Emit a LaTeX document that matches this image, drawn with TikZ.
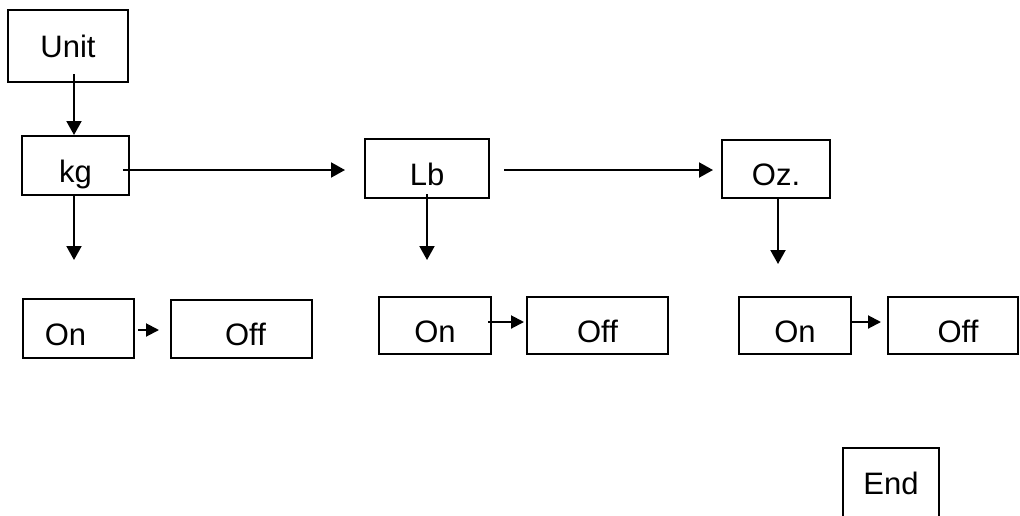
\documentclass[tikz,border=0pt]{standalone}
\usepackage{fontspec}
\setmainfont{Liberation Sans}
\usepackage{tikz}
\usetikzlibrary{arrows.meta, positioning}

\begin{document}
\begin{tikzpicture}[
    x=1pt, y=-1pt,
    every node/.style={font=\fontsize{31}{37}\selectfont},
    box/.style={draw=black, line width=2pt, inner sep=0pt},
    lowbox/.style={box, text height=33.5pt, text depth=0pt},
    arr/.style={line width=2pt, -{Triangle[length=14pt, width=15pt]}},
    smallarr/.style={line width=2pt, -{Triangle[length=13pt, width=13pt]}}
]
\useasboundingbox (0,0) rectangle (1020,515);

% Top box
\node[box, minimum width=120pt, minimum height=72pt] (unit) at (68, 46) {Unit};

% Units row
\node[lowbox, minimum width=107pt, minimum height=59pt] (kg) at (75.5, 165.5) {kg};
\node[lowbox, minimum width=124pt, minimum height=59pt] (lb) at (427, 168.5) {Lb};
\node[lowbox, minimum width=108pt, minimum height=58pt] (oz) at (776, 169) {Oz.};

% On / Off row
\node[lowbox, minimum width=111pt, minimum height=59pt] (on1) at (78.5, 328.5) {\hspace*{-26pt}On};
\node[lowbox, minimum width=141pt, minimum height=58pt] (off1) at (241.5, 329) {\hspace*{8pt}Off};
\node[lowbox, minimum width=112pt, minimum height=57pt] (on2) at (435, 325.5) {On};
\node[lowbox, minimum width=141pt, minimum height=57pt] (off2) at (597.5, 325.5) {Off};
\node[lowbox, minimum width=112pt, minimum height=57pt] (on3) at (795, 325.5) {On};
\node[lowbox, minimum width=130pt, minimum height=57pt] (off3) at (953, 325.5) {\hspace*{10pt}Off};

% End
\node[box, minimum width=96pt, minimum height=70pt] (endbox) at (891, 483) {End};

% Arrows
\draw[arr] ([xshift=6pt, yshift=9pt]unit.south) -- ([xshift=-1.5pt]kg.north);
\draw[arr] ([xshift=-7pt, yshift=-4.5pt]kg.east) -- ([xshift=-19pt, yshift=-1.5pt]lb.west);
\draw[arr] ([xshift=14pt, yshift=-1.5pt]lb.east) -- ([xshift=-8pt, yshift=-1pt]oz.west);

\draw[arr] ([xshift=-1.5pt, yshift=2pt]kg.south) -- ([xshift=-4.5pt, yshift=38pt]on1.north);
\draw[arr] ([yshift=5pt]lb.south) -- ([xshift=-8pt, yshift=36pt]on2.north);
\draw[arr] ([xshift=2pt]oz.south) -- ([xshift=-17pt, yshift=32pt]on3.north);

\draw[smallarr] ([xshift=3pt, yshift=-1.5pt]on1.east) -- ([xshift=-11pt, yshift=-1pt]off1.west);
\draw[smallarr] ([xshift=-4pt, yshift=3.5pt]on2.east) -- ([xshift=-2pt, yshift=3.5pt]off2.west);
\draw[smallarr] ([yshift=3.5pt]on3.east) -- ([xshift=-6pt, yshift=3.5pt]off3.west);

\end{tikzpicture}
\end{document}
